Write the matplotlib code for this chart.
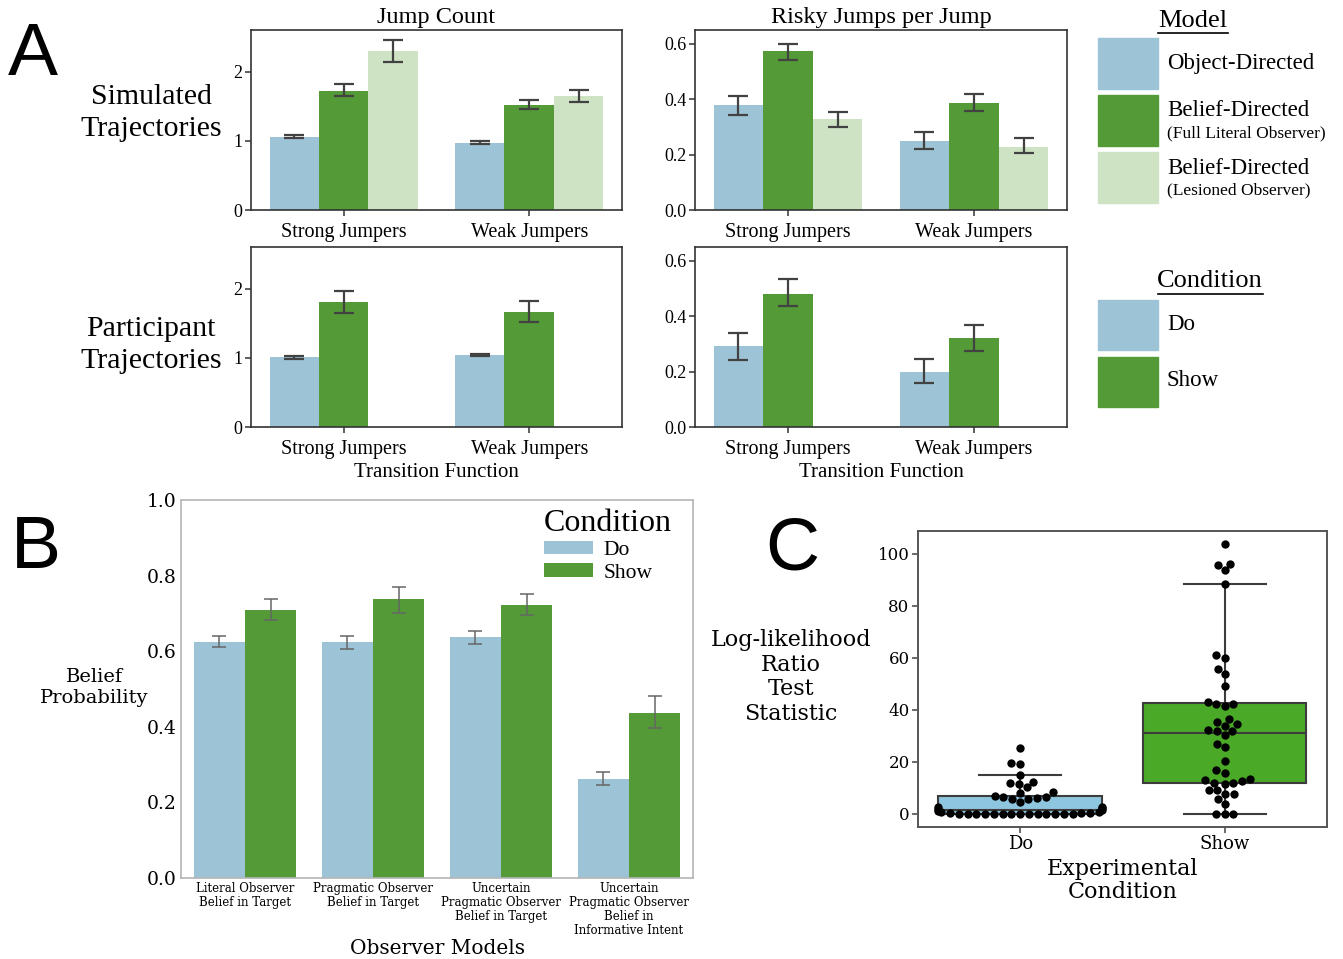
import numpy as np
import pandas as pd
import matplotlib
matplotlib.use('Agg')
import matplotlib.pyplot as plt
import seaborn as sns
from matplotlib.patches import Rectangle

do_col = '#9dc3d6'
show_col = '#549a37'
lesion_col = '#cee2c4'
box_do = '#8ec5df'
box_show = '#4ba928'
err_col = '#424242'

groups = ['Strong Jumpers', 'Weak Jumpers']

# panel A, simulated trajectories (rows: object, belief full, belief lesioned)
sim_jump = [[1.06, 0.975], [1.72, 1.51], [2.29, 1.65]]
sim_jump_lo = [[1.04, 0.955], [1.64, 1.46], [2.14, 1.56]]
sim_jump_hi = [[1.08, 0.995], [1.82, 1.59], [2.46, 1.74]]

sim_risky = [[0.378, 0.248], [0.573, 0.387], [0.327, 0.228]]
sim_risky_lo = [[0.344, 0.222], [0.542, 0.358], [0.300, 0.206]]
sim_risky_hi = [[0.412, 0.282], [0.599, 0.418], [0.355, 0.261]]

# panel A, participant trajectories (rows: do, show)
part_jump = [[1.01, 1.04], [1.80, 1.66]]
part_jump_lo = [[0.99, 1.02], [1.65, 1.52]]
part_jump_hi = [[1.03, 1.06], [1.97, 1.82]]

part_risky = [[0.292, 0.200], [0.480, 0.321]]
part_risky_lo = [[0.241, 0.159], [0.436, 0.275]]
part_risky_hi = [[0.341, 0.247], [0.533, 0.370]]

# panel B
observers = ['Literal Observer\nBelief in Target',
             'Pragmatic Observer\nBelief in Target',
             'Uncertain\nPragmatic Observer\nBelief in Target',
             'Uncertain\nPragmatic Observer\nBelief in\nInformative Intent']
belief_do = [0.624, 0.624, 0.637, 0.262]
belief_do_lo = [0.610, 0.606, 0.620, 0.246]
belief_do_hi = [0.639, 0.641, 0.652, 0.279]
belief_show = [0.708, 0.738, 0.723, 0.436]
belief_show_lo = [0.682, 0.702, 0.695, 0.397]
belief_show_hi = [0.738, 0.769, 0.751, 0.481]

# panel C, log-likelihood ratio per participant
ll_do = [0, 0, 0, 0, 0, 0, 0, 0, 0, 0, 0, 0, 0, 0, 0.1, 0.2, 0.3, 0.5, 0.8, 1.0,
         1.3, 1.7, 2.0, 2.5, 2.7, 4.4, 5.5, 5.7, 6.0, 6.3, 6.5, 6.7, 8.0, 8.3,
         10.2, 11.5, 11.8, 12.3, 14.7, 19.2, 19.3, 25.3]
ll_show = [0, 0, 0, 3.5, 5.7, 7.6, 7.6, 9.0, 9.0, 11.2, 11.6, 11.9, 12.4, 12.8, 13.2,
           15.8, 16.9, 20.3, 25.5, 26.7, 30.2, 31.8, 31.8, 32.2, 33.7, 34.5, 35.4,
           36.4, 41.5, 42.0, 42.3, 42.8, 49.0, 53.5, 55.5, 60.0, 61.0, 88.4, 93.5,
           95.5, 96.0, 103.5]

serifA = 'Liberation Serif'
serifB = 'DejaVu Serif'

fig = plt.figure(figsize=(13.43, 9.59), dpi=100)


def bar_panel(ax, means, lo, hi, colors, ylim, yticks, fmt):
    w = 0.8 / 3
    x = np.arange(len(groups))
    for i, (m, l, h) in enumerate(zip(means, lo, hi)):
        m = np.array(m)
        pos = x + (i - 1) * w
        ax.bar(pos, m, width=w, color=colors[i])
        ax.errorbar(pos, m, yerr=[m - np.array(l), np.array(h) - m], fmt='none',
                    ecolor=err_col, elinewidth=1.6, capsize=7, capthick=1.6)
    ax.set_xlim(-0.5, 1.5)
    ax.set_ylim(*ylim)
    ax.set_yticks(yticks)
    ax.set_yticklabels([fmt.format(t) for t in yticks], fontsize=13, family=serifA)
    ax.set_xticks(x)
    ax.set_xticklabels(groups, fontsize=14.5, family=serifA)
    ax.tick_params(length=4, width=1.1, color='#333333', pad=2)
    ax.tick_params(axis='x', pad=5)
    for s in ax.spines.values():
        s.set_color('#333333')
        s.set_linewidth(1.2)


ax1 = fig.add_axes([0.1869, 0.7810, 0.2762, 0.1877])
ax2 = fig.add_axes([0.5175, 0.7810, 0.2770, 0.1877])
ax3 = fig.add_axes([0.1869, 0.5547, 0.2762, 0.1877])
ax4 = fig.add_axes([0.5175, 0.5547, 0.2770, 0.1877])

cols3 = [do_col, show_col, lesion_col]
bar_panel(ax1, sim_jump, sim_jump_lo, sim_jump_hi, cols3, (0, 2.6), [0, 1, 2], '{:.0f}')
bar_panel(ax2, sim_risky, sim_risky_lo, sim_risky_hi, cols3, (0, 0.65), [0, 0.2, 0.4, 0.6], '{:.1f}')
bar_panel(ax3, part_jump, part_jump_lo, part_jump_hi, cols3, (0, 2.6), [0, 1, 2], '{:.0f}')
bar_panel(ax4, part_risky, part_risky_lo, part_risky_hi, cols3, (0, 0.65), [0, 0.2, 0.4, 0.6], '{:.1f}')

ax1.set_title('Jump Count', fontsize=17.5, family=serifA, pad=5)
ax2.set_title('Risky Jumps per Jump', fontsize=17.5, family=serifA, pad=5)
for ax in (ax3, ax4):
    ax.set_xlabel('Transition Function', fontsize=15, family=serifA, labelpad=3.5)

fig.text(151 / 1343, 1 - 113 / 959, 'Simulated\nTrajectories', ha='center', va='center',
         fontsize=21.5, family=serifA, linespacing=1.35)
fig.text(151 / 1343, 1 - 345 / 959, 'Participant\nTrajectories', ha='center', va='center',
         fontsize=21.5, family=serifA, linespacing=1.35)

# panel B
axB = fig.add_axes([0.1348, 0.0845, 0.3812, 0.3942])
xb = np.arange(len(observers))
bd = np.array(belief_do)
bs = np.array(belief_show)
axB.bar(xb - 0.2, bd, width=0.4, color=do_col, label='Do')
axB.bar(xb + 0.2, bs, width=0.4, color=show_col, label='Show')
axB.errorbar(xb - 0.2, bd, yerr=[bd - np.array(belief_do_lo), np.array(belief_do_hi) - bd],
             fmt='none', ecolor='#666666', elinewidth=1.1, capsize=5, capthick=1.1)
axB.errorbar(xb + 0.2, bs, yerr=[bs - np.array(belief_show_lo), np.array(belief_show_hi) - bs],
             fmt='none', ecolor='#666666', elinewidth=1.1, capsize=5, capthick=1.1)
axB.set_xlim(-0.5, 3.5)
axB.set_ylim(0, 1.0)
axB.set_yticks([0, 0.2, 0.4, 0.6, 0.8, 1.0])
axB.set_yticklabels(['0.0', '0.2', '0.4', '0.6', '0.8', '1.0'], fontsize=13.5, family=serifB)
axB.set_xticks(xb)
axB.set_xticklabels(observers, fontsize=8.5, family=serifB, linespacing=1.08)
axB.tick_params(length=0, pad=3)
for s in axB.spines.values():
    s.set_color('#b5b5b5')
    s.set_linewidth(1.2)
axB.set_xlabel('Observer Models', fontsize=14.5, family=serifB, labelpad=2)
axB.set_ylabel('Belief\nProbability', fontsize=14, family=serifB, rotation=0,
               ha='center', va='center')
axB.yaxis.set_label_coords(-0.17, 0.503)
legB = axB.legend(title='Condition', loc='upper right', frameon=False,
                  prop={'family': serifA, 'size': 15.5}, handlelength=2.3,
                  handleheight=0.6, handletextpad=0.5, labelspacing=0.15,
                  borderaxespad=0.0, alignment='left',
                  bbox_to_anchor=(0.975, 1.0))
legB.get_title().set_fontsize(23)
legB.get_title().set_family(serifA)

# panel C
axC = fig.add_axes([0.6835, 0.1376, 0.3045, 0.3087])
ll_df = pd.DataFrame({'cond': ['Do'] * len(ll_do) + ['Show'] * len(ll_show),
                      'll': ll_do + ll_show})
sns.boxplot(data=ll_df, x='cond', y='ll', hue='cond', palette=[box_do, box_show],
            saturation=1, showfliers=False, linecolor='#3c3c3c', linewidth=1.5,
            legend=False, ax=axC)
sns.swarmplot(data=ll_df, x='cond', y='ll', color='black', size=6, ax=axC)
axC.set_yticks([0, 20, 40, 60, 80, 100])
axC.set_yticklabels(['0', '20', '40', '60', '80', '100'], fontsize=12, family=serifB)
axC.set_xticks([0, 1])
axC.set_xticklabels(['Do', 'Show'], fontsize=13, family=serifB)
axC.tick_params(length=4, width=1.1, color='#444444', pad=2)
for s in axC.spines.values():
    s.set_visible(True)
    s.set_color('#555555')
    s.set_linewidth(1.4)
axC.set_xlabel('Experimental\nCondition', fontsize=16, family=serifB, labelpad=3,
               linespacing=1.1)
axC.set_ylabel('Log-likelihood\nRatio\nTest\nStatistic', fontsize=16, family=serifB,
               rotation=0, ha='center', va='center', linespacing=1.15)
axC.yaxis.set_label_coords(-0.31, 0.507)

# panel letters
for lab, px, py in [('A', 8, 75), ('B', 11, 568), ('C', 765, 570)]:
    fig.text(px / 1343, 1 - py / 959, lab, ha='left', va='baseline',
             fontsize=54, family='Liberation Sans')

# side legends for panel A
ov = fig.add_axes([0, 0, 1, 1])
ov.set_xlim(0, 1343)
ov.set_ylim(959, 0)
ov.axis('off')

model_labels = ['Object-Directed', 'Belief-Directed', 'Belief-Directed']
model_notes = ['', '(Full Literal Observer)', '(Lesioned Observer)']
for i, (lab, note, col) in enumerate(zip(model_labels, model_notes, cols3)):
    top = 38 + i * 57
    ov.add_patch(Rectangle((1098, top), 60, 51, color=col))
    if note:
        ov.text(1167, top + 16, lab, fontsize=16.5, family=serifA, va='center')
        ov.text(1167, top + 38, note, fontsize=12.5, family=serifA, va='center')
    else:
        ov.text(1167, top + 25, lab, fontsize=16.5, family=serifA, va='center')
ov.text(1193, 21, 'Model', fontsize=19, family=serifA, ha='center', va='center')
ov.plot([1158, 1228], [33, 33], color='black', lw=1.2)

cond_labels = ['Do', 'Show']
for i, (lab, col) in enumerate(zip(cond_labels, [do_col, show_col])):
    top = 300 + i * 57
    ov.add_patch(Rectangle((1098, top), 60, 50, color=col))
    ov.text(1167, top + 24, lab, fontsize=16.5, family=serifA, va='center')
ov.text(1210, 281, 'Condition', fontsize=19, family=serifA, ha='center', va='center')
ov.plot([1158, 1263], [294, 294], color='black', lw=1.2)

fig.savefig('out.png', dpi=100)
